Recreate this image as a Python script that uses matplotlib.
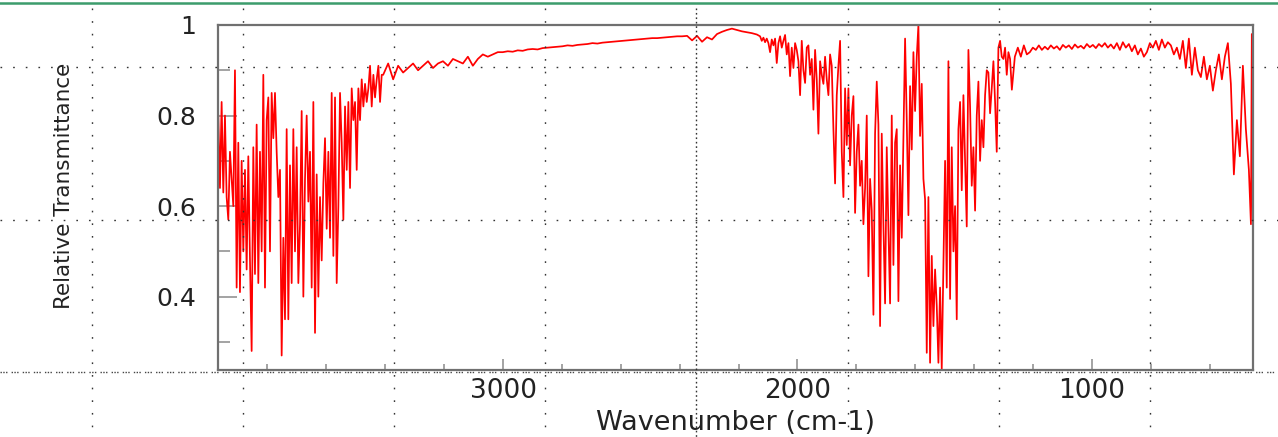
import matplotlib
matplotlib.use('Agg')
import matplotlib.pyplot as plt
import numpy as np
from matplotlib.lines import Line2D
from matplotlib.ticker import MultipleLocator, FuncFormatter

# transmittance, left to right
# O-H stretch band
t_a = [0.80, 0.64, 0.83, 0.63, 0.80, 0.62, 0.57, 0.72, 0.66, 0.60,
       0.90, 0.42, 0.74, 0.41, 0.70, 0.50, 0.68, 0.46, 0.71, 0.48,
       0.28, 0.73, 0.45, 0.78, 0.43, 0.72, 0.50, 0.89, 0.42, 0.79,
       0.84, 0.50, 0.85, 0.75, 0.85, 0.72, 0.62, 0.68, 0.27, 0.53,
       0.35, 0.77, 0.35, 0.69, 0.43, 0.77, 0.50, 0.73, 0.43, 0.56,
       0.81, 0.40, 0.66, 0.80, 0.61, 0.72, 0.42, 0.83, 0.32, 0.67,
       0.40, 0.62, 0.48, 0.65, 0.75, 0.55, 0.72, 0.53, 0.85, 0.49,
       0.84, 0.43, 0.60, 0.85, 0.74, 0.57, 0.82, 0.68, 0.83, 0.64,
       0.86, 0.79, 0.83, 0.68, 0.86, 0.79, 0.88, 0.82, 0.87, 0.83,
       0.86, 0.91, 0.82, 0.89, 0.84, 0.88, 0.91, 0.83, 0.89]
# flat region
t_b = [0.89, 0.915, 0.88, 0.91, 0.895, 0.905, 0.915, 0.90, 0.91, 0.92,
       0.905, 0.915, 0.92, 0.91, 0.925, 0.92, 0.915, 0.93, 0.91, 0.925,
       0.935, 0.93, 0.935, 0.94,
       0.940, 0.942, 0.941, 0.944, 0.943, 0.946, 0.947, 0.946, 0.949, 0.950,
       0.951, 0.952, 0.953, 0.955, 0.954, 0.956, 0.957, 0.958, 0.960, 0.959,
       0.961, 0.962, 0.963, 0.964, 0.965, 0.966, 0.967, 0.968, 0.969, 0.970,
       0.971, 0.971, 0.972, 0.973, 0.974, 0.975, 0.975, 0.976,
       0.966, 0.976, 0.963, 0.973, 0.968, 0.980, 0.985, 0.989, 0.992, 0.989,
       0.986, 0.984, 0.982, 0.979]
# bending band
t_c = [0.975, 0.965, 0.972, 0.962, 0.970, 0.960, 0.940, 0.968, 0.955, 0.970,
       0.916, 0.960, 0.975, 0.950, 0.965, 0.978, 0.935, 0.960, 0.887, 0.950,
       0.905, 0.960, 0.945, 0.920, 0.845, 0.965, 0.900, 0.872, 0.950, 0.955,
       0.890, 0.925, 0.813, 0.945, 0.880, 0.760, 0.920, 0.890, 0.870, 0.930,
       0.880, 0.845, 0.935, 0.910, 0.770, 0.650, 0.845, 0.910, 0.965, 0.720,
       0.620, 0.860, 0.735, 0.860, 0.690, 0.800, 0.843, 0.585, 0.720, 0.780,
       0.645, 0.700, 0.560, 0.640, 0.800, 0.445, 0.660, 0.590, 0.360, 0.760,
       0.875, 0.780, 0.335, 0.760, 0.560, 0.385, 0.730, 0.550, 0.385,
       0.80, 0.47, 0.74, 0.77, 0.39, 0.69, 0.53, 0.75, 0.97, 0.79,
       0.58, 0.865, 0.725, 0.94, 0.81, 0.93, 1.00, 0.755, 0.87, 0.66,
       0.615, 0.276, 0.62, 0.254, 0.49, 0.335, 0.46, 0.38, 0.254, 0.42,
       0.24, 0.47, 0.70, 0.42, 0.92, 0.395, 0.73, 0.50, 0.60, 0.35,
       0.77, 0.83, 0.635, 0.845, 0.70, 0.555, 0.945, 0.82, 0.645, 0.73,
       0.59, 0.80, 0.875, 0.70, 0.79, 0.73, 0.845, 0.90, 0.895, 0.805,
       0.86, 0.92, 0.83, 0.72, 0.95, 0.965, 0.93, 0.925, 0.95, 0.89,
       0.94, 0.925]
# fingerprint region
t_d = [0.857, 0.93, 0.95, 0.93, 0.955, 0.935, 0.94, 0.95, 0.945, 0.955,
       0.945, 0.952, 0.946, 0.955, 0.948, 0.953, 0.945, 0.956, 0.95, 0.955,
       0.947, 0.957, 0.95, 0.954, 0.948, 0.958, 0.951, 0.956, 0.949, 0.958,
       0.952, 0.96, 0.95, 0.957, 0.948, 0.96, 0.945, 0.962, 0.95, 0.958,
       0.942, 0.955, 0.935, 0.948, 0.93, 0.94,
       0.96, 0.95, 0.965, 0.945, 0.968, 0.95, 0.962, 0.955, 0.935, 0.95,
       0.925, 0.965, 0.905, 0.97, 0.89, 0.95, 0.90, 0.885, 0.93, 0.88,
       0.91, 0.855, 0.90, 0.935, 0.88, 0.93, 0.96, 0.87, 0.67, 0.79,
       0.71, 0.91, 0.77, 0.68]
t_tail = [0.56, 0.98, 0.51]
wn_tail = [460, 457, 453]

wn_a = np.linspace(3967, 3412, len(t_a))
wn_b = np.linspace(3407, 2138, len(t_b))
wn_c = np.linspace(2127, 1278, len(t_c))
wn_d = np.linspace(1272, 467, len(t_d))

wavenumber = np.concatenate([wn_a, wn_b, wn_c, wn_d, wn_tail])
transmittance = np.concatenate([t_a, t_b, t_c, t_d, t_tail])

W, H = 1278, 437
fig = plt.figure(figsize=(W / 100, H / 100), dpi=100)
ax = fig.add_axes([218 / W, 1 - 370 / H, (1253 - 218) / W, (370 - 25) / H])

ax.plot(wavenumber, transmittance, color='#ff0000', lw=1.25)
ax.set_xlim(3968, 453)
ax.set_ylim(0.238, 1.0)

ax.xaxis.set_major_locator(MultipleLocator(1000))
ax.xaxis.set_minor_locator(MultipleLocator(200))
ax.yaxis.set_major_locator(MultipleLocator(0.2))
ax.yaxis.set_minor_locator(MultipleLocator(0.1))
ax.yaxis.set_major_formatter(FuncFormatter(lambda v, p: '1' if abs(v - 1) < 1e-6 else f'{v:.1f}'))

for s in ax.spines.values():
    s.set_color('#707070')
    s.set_linewidth(1.6)

ax.tick_params(axis='both', which='both', direction='in', color='#8a8a8a', width=1.1)
ax.tick_params(axis='y', which='major', length=14, pad=16, labelsize=18)
ax.tick_params(axis='y', which='minor', length=8.5)
ax.tick_params(axis='x', which='major', length=8, pad=6, labelsize=19)
ax.tick_params(axis='x', which='minor', length=4.5)
ax.tick_params(labelcolor='#222222')

ax.set_xlabel('Wavenumber (cm-1)', fontsize=19.5, color='#222222')
ax.set_ylabel('Relative Transmittance', fontsize=15.5, color='#222222')
ax.xaxis.set_label_coords(0.5, -0.154)
ax.yaxis.set_label_coords(-0.149, 0.533)
ax.xaxis.label.set_va('center')
ax.yaxis.label.set_va('center')


def fig_line(xs, ys, **kw):
    fig.add_artist(Line2D([x / W for x in xs], [1 - y / H for y in ys],
                          transform=fig.transFigure, **kw))


# background grid of the screenshot
dots = dict(color='#333333', lw=1.0, ls=(0, (1.2, 7.9)))
for gx in [92, 243, 394, 545, 848, 999, 1150]:
    fig_line([gx, gx], [8, H], **dots)
fig_line([696, 696], [8, H], color='#333333', lw=1.0, ls=(0, (1.2, 2.0)))
for gy in [67, 220]:
    fig_line([0, W], [gy, gy], **dots)
fig_line([0, W], [372, 372], color='#444444', lw=1.0, ls=(0, (1, 1, 1, 1, 1, 3)))
fig_line([0, W], [3, 3], color='#3c9c6c', lw=1.8)

fig.savefig('out.png', dpi=100)
